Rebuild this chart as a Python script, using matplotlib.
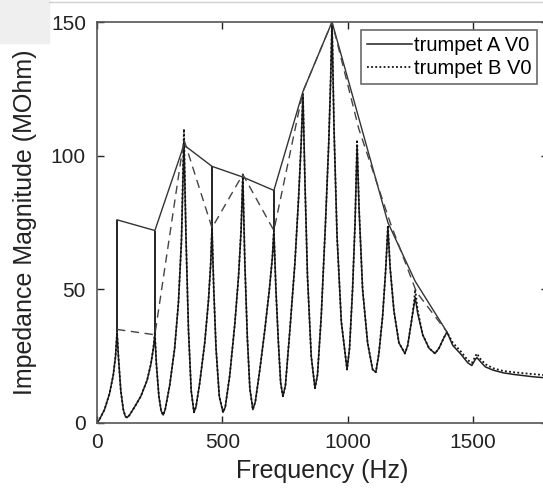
import matplotlib.pyplot as plt
from matplotlib.patches import Rectangle
from matplotlib.lines import Line2D

plt.rcParams['font.family'] = ['Liberation Sans', 'DejaVu Sans']

# impedance curves (shared frequency grid)
freq = [0, 8, 30, 50, 65, 74, 80, 86, 95, 105, 113, 120,
        130, 150, 175, 200, 215, 225, 231, 237, 247, 256, 264,
        272, 290, 310, 325, 337, 347, 355, 365, 376, 387,
        395, 410, 430, 445, 454, 459, 466, 475, 488, 503,
        512, 530, 550, 565, 575, 582, 590, 600, 610, 622,
        632, 650, 670, 688, 700, 706, 714, 724, 733, 742,
        752, 770, 790, 805, 815, 822, 830, 840, 855, 870,
        880, 895, 912, 925, 933, 938, 946, 958, 975, 998,
        1008, 1020, 1030, 1038, 1046, 1060, 1080, 1100, 1113,
        1125, 1140, 1152, 1161, 1170, 1185, 1205, 1229,
        1240, 1255, 1265, 1270, 1280, 1300, 1325, 1349,
        1365, 1385, 1397, 1420, 1450, 1480, 1496, 1508, 1516, 1530, 1550,
        1580, 1620, 1660, 1740, 1800]

imp_b = [0.3, 1, 5, 11, 18, 25, 34, 24, 12, 5, 2.5, 2,
         3, 6, 10, 16, 22, 28, 34, 22, 10, 4.5, 3,
         5, 14, 28, 45, 68, 110, 70, 35, 12, 4,
         6, 15, 30, 46, 60, 73, 50, 28, 10, 4,
         6, 18, 37, 55, 72, 93, 60, 32, 13, 5,
         8, 20, 35, 50, 62, 72, 50, 30, 15, 10,
         14, 35, 60, 85, 105, 123, 90, 55, 25, 13,
         18, 40, 75, 105, 130, 150, 110, 70, 38, 20,
         28, 50, 75, 106, 80, 50, 30, 20, 19,
         26, 40, 57, 74, 58, 42, 30, 26,
         29, 38, 45, 50, 42, 33, 28, 26,
         28, 32, 34, 30, 27, 23.5, 22.5, 24.5, 26, 24, 22,
         20.5, 19.5, 19, 18.3, 17.8]

imp_a = [0.3, 1, 5, 11, 18, 25, 34, 24, 12, 5, 2.5, 2,
         3, 6, 10, 16, 22, 28, 33, 22, 10, 4.5, 3,
         5, 14, 28, 45, 68, 106, 70, 35, 12, 4,
         6, 15, 30, 46, 60, 73, 50, 28, 10, 4,
         6, 18, 37, 55, 72, 92, 60, 32, 13, 5,
         8, 20, 35, 50, 62, 72, 50, 30, 15, 10,
         14, 35, 60, 85, 105, 123, 90, 55, 25, 13,
         18, 40, 75, 105, 130, 150, 110, 70, 38, 20,
         28, 50, 75, 104, 80, 50, 30, 20, 19,
         26, 40, 57, 73, 58, 42, 30, 26,
         29, 38, 44, 47, 41, 33, 28, 26,
         28, 32, 34, 29, 26, 22.5, 21.5, 23.5, 24.5, 23, 21,
         19.8, 18.8, 18.2, 17.3, 16.8]

# narrow spikes of trumpet A
spike_freq = [80, 231, 459, 706]
spike_base = [34, 33, 73, 72]
spike_top = [76, 72, 96, 87]

# peak envelopes
env_a_freq = [80, 231, 347, 459, 582, 706, 822, 938, 1161, 1270, 1397]
env_a_imp = [76, 72, 104, 96, 92, 87, 124, 150, 75, 53, 34]
env_b_freq = [80, 231, 347, 459, 582, 706, 822, 938, 1045, 1170, 1275, 1397]
env_b_imp = [35, 33, 106, 73, 93, 72, 124, 150, 110, 75, 49, 34]

fig = plt.figure(figsize=(5.43, 4.93), dpi=100)
fig.patches.append(Rectangle((0, 1 - 43 / 493), 49 / 543, 43 / 493,
                             transform=fig.transFigure, color='#efefef', zorder=0))
fig.add_artist(Line2D([49 / 543, 1], [1 - 2 / 493, 1 - 2 / 493],
                      transform=fig.transFigure, color='#cfcfcf', lw=1))

ax = fig.add_axes([97 / 543, 70 / 493, 451 / 543, 401 / 493])

ax.plot(freq, imp_a, color='#222222', lw=1.1, ls='-', label='trumpet A V0')
ax.plot(freq, imp_b, color='#111111', lw=1.3, ls=(0, (1, 1.3)), label='trumpet B V0')
ax.vlines(spike_freq, spike_base, spike_top, color='#222222', lw=1.4)
ax.plot(env_a_freq, env_a_imp, color='#333333', lw=1.0, ls='-')
ax.plot(env_b_freq, env_b_imp, color='#444444', lw=1.0, ls=(0, (6, 4)))

ax.set_xlim(0, 1800)
ax.set_ylim(0, 150)
ax.set_xticks([0, 500, 1000, 1500])
ax.set_yticks([0, 50, 100, 150])
ax.tick_params(direction='in', length=5, width=1, top=True, right=True,
               labelsize=15, colors='#222222')
ax.tick_params(axis='x', pad=7)
ax.tick_params(axis='y', pad=8)
for s in ax.spines.values():
    s.set_color('#555555')
    s.set_linewidth(1.2)

ax.set_xlabel('Frequency (Hz)', fontsize=18, color='#222222', labelpad=5)
ax.set_ylabel('Impedance Magnitude (MOhm)', fontsize=18, color='#222222', labelpad=10)

leg = ax.legend(loc='upper right', bbox_to_anchor=(0.985, 0.99), fontsize=14.5,
                frameon=True, fancybox=False, handlelength=2.2, handletextpad=0.1,
                borderpad=0.3, labelspacing=0.2, borderaxespad=0.2)
leg.get_frame().set_edgecolor('#444444')
leg.get_frame().set_linewidth(1.2)

fig.savefig('out.png', dpi=100)
